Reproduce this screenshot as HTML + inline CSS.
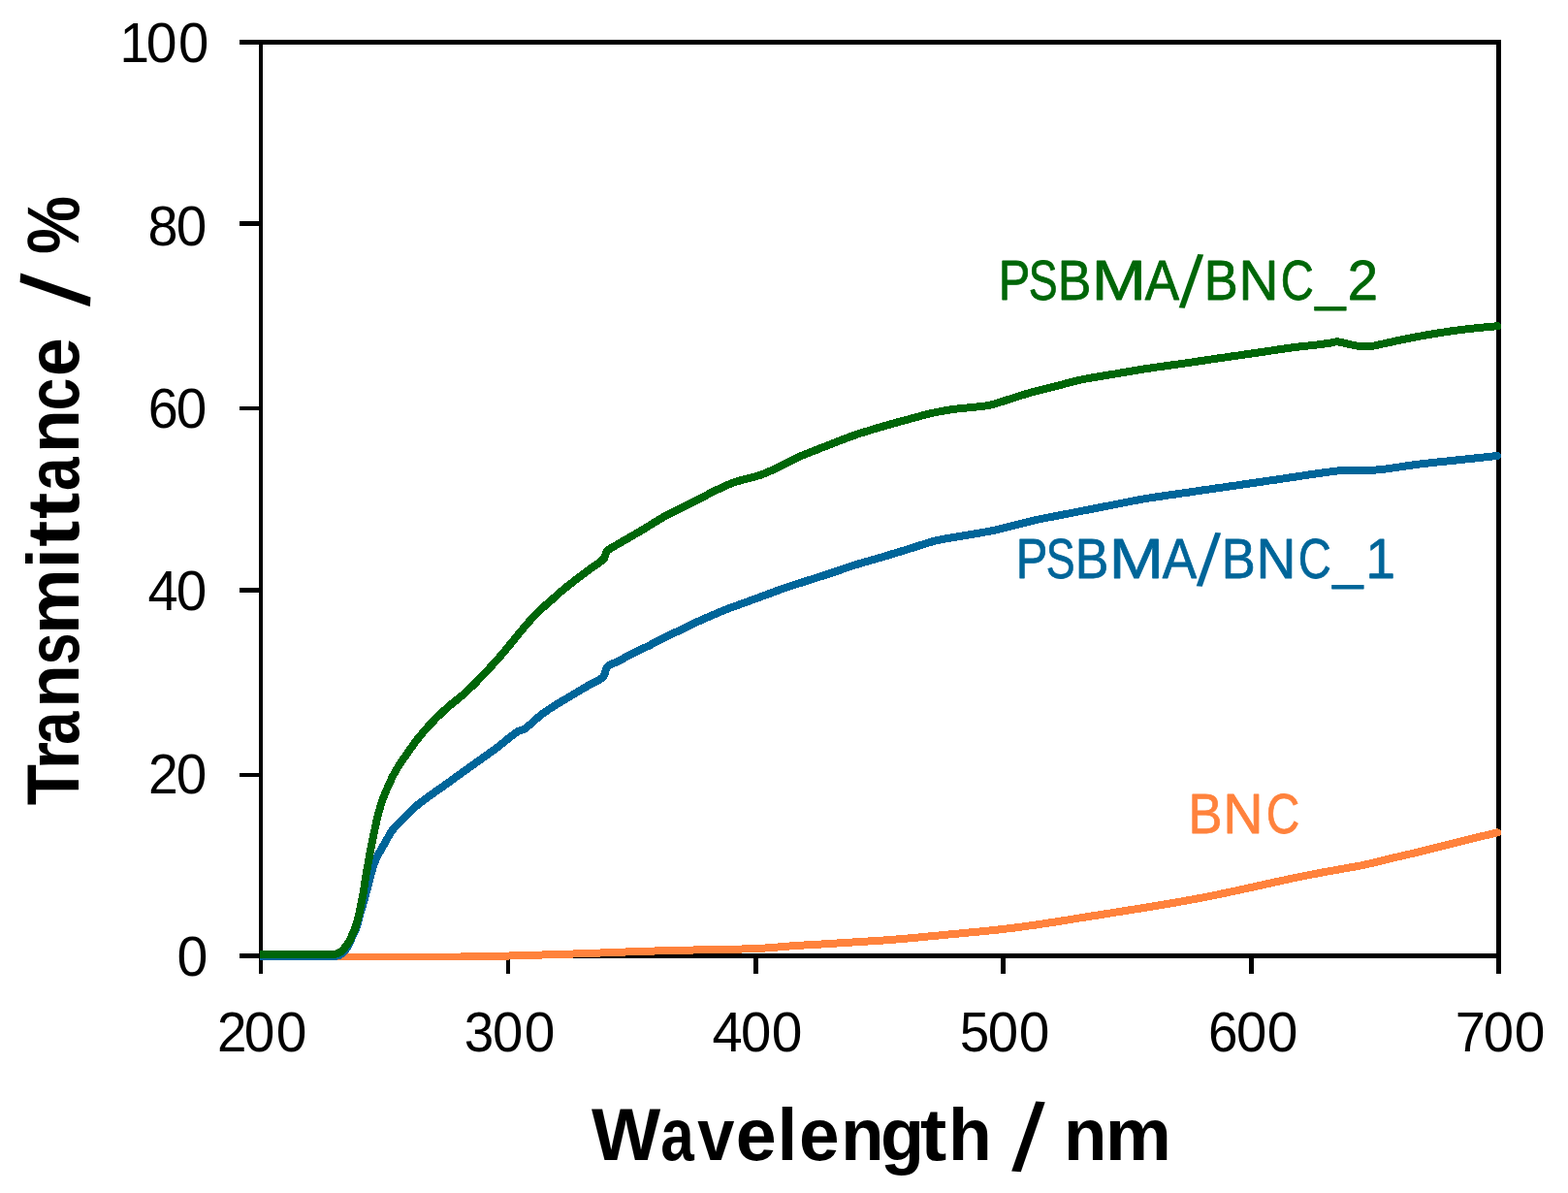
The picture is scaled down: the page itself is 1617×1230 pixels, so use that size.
<!DOCTYPE html>
<html lang="en">
<head>
<meta charset="utf-8">
<title>Transmittance vs wavelength</title>
<style>
html,body{margin:0;padding:0;background:#fff;}
body{width:1617px;height:1230px;overflow:hidden;}
svg{display:block;}
text{font-family:"Liberation Sans",sans-serif;}
.b{font-weight:700;}
</style>
</head>
<body>
<svg width="1617" height="1230" viewBox="0 0 1617 1230">
<rect x="0" y="0" width="1617" height="1230" fill="#fff"/>
<g fill="#000" shape-rendering="crispEdges">
<rect x="267" y="41" width="4" height="963"/>
<rect x="1543" y="41" width="5" height="963"/>
<rect x="247" y="41" width="1301" height="5"/>
<rect x="247" y="983" width="1301" height="5"/>
<rect x="247" y="228" width="20" height="5"/>
<rect x="247" y="419" width="20" height="4"/>
<rect x="247" y="606" width="20" height="5"/>
<rect x="247" y="797" width="20" height="4"/>
<rect x="522" y="988" width="4" height="16"/>
<rect x="777" y="988" width="5" height="16"/>
<rect x="1032" y="988" width="5" height="16"/>
<rect x="1288" y="988" width="5" height="16"/>
</g>
<clipPath id="plot"><rect x="268" y="30" width="1290" height="960"/></clipPath>
<g clip-path="url(#plot)" fill="none" stroke-width="8" stroke-linejoin="round" stroke-linecap="round" shape-rendering="crispEdges">
<path stroke="#FF823C" d="M269.0,987.0 L271.0,987.0 L273.0,987.0 L275.0,987.0 L277.0,987.0 L279.0,987.0 L281.0,987.0 L283.0,987.0 L285.0,987.0 L287.0,987.0 L289.0,987.0 L291.0,987.0 L293.0,987.0 L295.0,987.0 L297.0,987.0 L299.0,987.0 L301.0,987.0 L303.0,987.0 L305.0,987.0 L307.0,987.0 L309.0,987.0 L311.0,987.0 L313.0,987.0 L315.0,987.0 L317.0,987.0 L319.0,987.0 L321.0,987.0 L323.0,987.0 L325.0,987.0 L327.0,987.0 L329.0,987.0 L331.0,987.0 L333.0,987.0 L335.0,987.0 L337.0,987.0 L339.0,987.0 L341.0,987.0 L343.0,987.0 L345.0,987.0 L347.0,987.0 L349.0,987.0 L351.0,987.0 L353.0,987.0 L355.0,987.0 L357.0,987.0 L359.0,987.0 L361.0,987.0 L363.0,987.0 L365.0,987.0 L367.0,987.0 L369.0,987.0 L371.0,987.0 L373.0,987.0 L375.0,987.0 L377.0,987.0 L379.0,987.0 L381.0,987.0 L383.0,987.0 L385.0,987.0 L387.0,987.0 L389.0,987.0 L391.0,987.0 L393.0,987.0 L395.0,987.0 L397.0,987.0 L399.0,987.0 L400.0,987.0 L401.0,987.0 L403.0,987.0 L405.0,987.0 L407.0,987.0 L409.0,987.0 L411.0,987.0 L413.0,987.0 L415.0,987.0 L417.0,987.0 L419.0,987.0 L421.0,987.0 L423.0,986.9 L425.0,986.9 L427.0,986.9 L429.0,986.9 L431.0,986.9 L433.0,986.9 L435.0,986.9 L437.0,986.9 L439.0,986.9 L441.0,986.9 L443.0,986.8 L445.0,986.8 L447.0,986.8 L449.0,986.8 L450.0,986.8 L451.0,986.8 L453.0,986.8 L455.0,986.8 L457.0,986.7 L459.0,986.7 L461.0,986.7 L463.0,986.7 L465.0,986.6 L467.0,986.6 L469.0,986.6 L471.0,986.5 L473.0,986.5 L475.0,986.5 L477.0,986.4 L479.0,986.4 L481.0,986.4 L483.0,986.3 L485.0,986.3 L487.0,986.2 L489.0,986.2 L491.0,986.2 L493.0,986.1 L495.0,986.1 L497.0,986.1 L499.0,986.0 L500.0,986.0 L501.0,986.0 L503.0,985.9 L505.0,985.9 L507.0,985.9 L509.0,985.8 L511.0,985.8 L513.0,985.7 L515.0,985.7 L517.0,985.7 L519.0,985.6 L521.0,985.6 L523.0,985.5 L523.7,985.5 L525.0,985.5 L527.0,985.4 L529.0,985.4 L531.0,985.3 L533.0,985.3 L535.0,985.2 L537.0,985.2 L539.0,985.1 L541.0,985.0 L543.0,985.0 L545.0,984.9 L547.0,984.9 L549.0,984.8 L551.0,984.8 L553.0,984.7 L555.0,984.6 L557.0,984.6 L559.0,984.5 L561.0,984.4 L563.0,984.4 L565.0,984.3 L567.0,984.3 L569.0,984.2 L571.0,984.1 L573.0,984.1 L575.0,984.0 L577.0,983.9 L579.0,983.9 L581.0,983.8 L583.0,983.7 L585.0,983.7 L587.0,983.6 L589.0,983.5 L591.0,983.5 L593.0,983.4 L595.0,983.3 L597.0,983.3 L599.0,983.2 L601.0,983.1 L603.0,983.1 L605.0,983.0 L607.0,982.9 L609.0,982.8 L611.0,982.8 L613.0,982.7 L615.0,982.6 L617.0,982.5 L619.0,982.5 L621.0,982.4 L623.0,982.3 L625.0,982.2 L627.0,982.1 L629.0,982.1 L631.0,982.0 L633.0,981.9 L635.0,981.8 L637.0,981.8 L639.0,981.7 L641.0,981.6 L643.0,981.5 L645.0,981.5 L647.0,981.4 L649.0,981.3 L651.0,981.2 L653.0,981.2 L655.0,981.1 L657.0,981.0 L658.3,981.0 L659.0,981.0 L661.0,980.9 L663.0,980.9 L665.0,980.8 L667.0,980.7 L669.0,980.7 L671.0,980.6 L673.0,980.6 L675.0,980.5 L677.0,980.4 L679.0,980.4 L681.0,980.3 L683.0,980.3 L685.0,980.2 L687.0,980.2 L689.0,980.1 L691.0,980.1 L693.0,980.0 L695.0,980.0 L697.0,979.9 L699.0,979.9 L701.0,979.8 L703.0,979.8 L705.0,979.7 L707.0,979.7 L709.0,979.6 L711.0,979.6 L713.0,979.5 L715.0,979.5 L717.0,979.4 L717.7,979.4 L719.0,979.4 L721.0,979.3 L723.0,979.3 L725.0,979.2 L727.0,979.2 L729.0,979.2 L731.0,979.1 L733.0,979.1 L735.0,979.0 L737.0,979.0 L739.0,979.0 L741.0,978.9 L743.0,978.9 L745.0,978.9 L747.0,978.8 L749.0,978.8 L751.0,978.8 L753.0,978.7 L755.0,978.7 L757.0,978.6 L759.0,978.6 L761.0,978.5 L763.0,978.5 L765.0,978.5 L767.0,978.4 L769.0,978.3 L771.0,978.3 L773.0,978.2 L775.0,978.2 L777.0,978.1 L779.0,978.0 L781.0,977.9 L783.0,977.8 L785.0,977.7 L787.0,977.6 L789.0,977.5 L791.0,977.3 L793.0,977.2 L795.0,977.0 L797.0,976.9 L799.0,976.7 L801.0,976.6 L803.0,976.4 L805.0,976.2 L807.0,976.1 L809.0,975.9 L811.0,975.8 L813.0,975.6 L815.0,975.4 L817.0,975.3 L819.0,975.2 L820.0,975.1 L821.0,975.0 L823.0,974.9 L825.0,974.8 L827.0,974.7 L829.0,974.5 L831.0,974.4 L833.0,974.3 L835.0,974.2 L837.0,974.0 L839.0,973.9 L841.0,973.8 L843.0,973.7 L845.0,973.6 L847.0,973.5 L849.0,973.3 L851.0,973.2 L853.0,973.1 L855.0,973.0 L857.0,972.8 L859.0,972.7 L859.4,972.7 L861.0,972.6 L863.0,972.5 L865.0,972.4 L867.0,972.2 L869.0,972.1 L871.0,972.0 L873.0,971.9 L875.0,971.7 L877.0,971.6 L879.0,971.5 L881.0,971.4 L883.0,971.3 L885.0,971.1 L887.0,971.0 L889.0,970.9 L891.0,970.8 L893.0,970.6 L895.0,970.5 L897.0,970.4 L899.0,970.3 L901.0,970.1 L903.0,970.0 L905.0,969.9 L907.0,969.7 L909.0,969.6 L911.0,969.5 L913.0,969.3 L915.0,969.2 L917.0,969.0 L918.7,968.9 L919.0,968.9 L921.0,968.7 L923.0,968.6 L925.0,968.4 L927.0,968.2 L929.0,968.1 L931.0,967.9 L933.0,967.7 L935.0,967.6 L937.0,967.4 L939.0,967.2 L941.0,967.0 L943.0,966.8 L945.0,966.7 L947.0,966.5 L949.0,966.3 L951.0,966.1 L953.0,965.9 L955.0,965.7 L957.0,965.5 L959.0,965.3 L961.0,965.1 L963.0,965.0 L965.0,964.8 L967.0,964.6 L969.0,964.4 L971.0,964.2 L973.0,964.0 L975.0,963.8 L977.0,963.6 L978.1,963.5 L979.0,963.4 L981.0,963.2 L983.0,963.0 L985.0,962.9 L987.0,962.7 L989.0,962.5 L991.0,962.3 L993.0,962.1 L995.0,961.9 L997.0,961.7 L999.0,961.5 L1001.0,961.4 L1003.0,961.2 L1005.0,961.0 L1007.0,960.8 L1009.0,960.6 L1011.0,960.4 L1013.0,960.2 L1015.0,960.0 L1017.0,959.8 L1019.0,959.6 L1021.0,959.4 L1023.0,959.2 L1025.0,959.0 L1027.0,958.8 L1029.0,958.6 L1031.0,958.3 L1033.0,958.1 L1035.0,957.9 L1037.0,957.7 L1037.5,957.6 L1039.0,957.4 L1041.0,957.2 L1043.0,956.9 L1045.0,956.7 L1047.0,956.4 L1049.0,956.2 L1051.0,955.9 L1053.0,955.6 L1055.0,955.4 L1057.0,955.1 L1059.0,954.8 L1061.0,954.5 L1063.0,954.2 L1065.0,953.9 L1067.0,953.7 L1069.0,953.4 L1071.0,953.1 L1073.0,952.8 L1075.0,952.5 L1077.0,952.2 L1079.0,951.9 L1081.0,951.6 L1083.0,951.3 L1085.0,951.0 L1087.0,950.7 L1089.0,950.4 L1091.0,950.1 L1093.0,949.7 L1095.0,949.4 L1097.0,949.1 L1099.0,948.8 L1101.0,948.5 L1103.0,948.1 L1105.0,947.8 L1107.0,947.5 L1109.0,947.2 L1111.0,946.8 L1113.0,946.5 L1115.0,946.2 L1117.0,945.9 L1119.0,945.6 L1120.0,945.4 L1121.0,945.2 L1123.0,944.9 L1125.0,944.6 L1127.0,944.3 L1129.0,944.0 L1131.0,943.7 L1133.0,943.4 L1135.0,943.0 L1137.0,942.7 L1139.0,942.4 L1141.0,942.1 L1143.0,941.8 L1145.0,941.5 L1147.0,941.2 L1149.0,940.8 L1151.0,940.5 L1153.0,940.2 L1155.0,939.9 L1157.0,939.6 L1159.0,939.3 L1160.0,939.1 L1161.0,938.9 L1163.0,938.6 L1165.0,938.3 L1167.0,938.0 L1169.0,937.7 L1171.0,937.3 L1173.0,937.0 L1175.0,936.7 L1177.0,936.4 L1179.0,936.1 L1181.0,935.7 L1183.0,935.4 L1185.0,935.1 L1187.0,934.8 L1189.0,934.4 L1191.0,934.1 L1193.0,933.8 L1195.0,933.4 L1197.0,933.1 L1199.0,932.8 L1200.0,932.6 L1201.0,932.4 L1203.0,932.1 L1205.0,931.8 L1207.0,931.4 L1209.0,931.1 L1211.0,930.7 L1213.0,930.4 L1215.0,930.0 L1217.0,929.7 L1219.0,929.3 L1221.0,929.0 L1223.0,928.6 L1225.0,928.3 L1227.0,927.9 L1229.0,927.5 L1231.0,927.2 L1233.0,926.8 L1235.0,926.4 L1237.0,926.1 L1239.0,925.7 L1240.0,925.5 L1241.0,925.3 L1243.0,924.9 L1245.0,924.5 L1247.0,924.1 L1249.0,923.7 L1251.0,923.3 L1253.0,922.9 L1255.0,922.5 L1257.0,922.1 L1259.0,921.7 L1261.0,921.2 L1263.0,920.8 L1265.0,920.4 L1267.0,920.0 L1269.0,919.5 L1271.0,919.1 L1273.0,918.7 L1275.0,918.3 L1277.0,917.8 L1278.1,917.6 L1279.0,917.4 L1281.0,917.0 L1283.0,916.5 L1285.0,916.1 L1287.0,915.7 L1289.0,915.2 L1291.0,914.8 L1293.0,914.4 L1295.0,913.9 L1297.0,913.5 L1299.0,913.0 L1301.0,912.6 L1303.0,912.1 L1305.0,911.7 L1307.0,911.2 L1309.0,910.8 L1311.0,910.4 L1313.0,909.9 L1315.0,909.5 L1317.0,909.0 L1319.0,908.6 L1321.0,908.2 L1323.0,907.7 L1325.0,907.3 L1327.0,906.8 L1329.0,906.4 L1331.0,906.0 L1333.0,905.5 L1335.0,905.1 L1337.0,904.7 L1337.5,904.6 L1339.0,904.3 L1341.0,903.9 L1343.0,903.5 L1345.0,903.1 L1347.0,902.7 L1349.0,902.3 L1351.0,901.9 L1353.0,901.5 L1355.0,901.1 L1357.0,900.8 L1359.0,900.4 L1360.0,900.2 L1361.0,900.0 L1363.0,899.6 L1365.0,899.3 L1367.0,898.9 L1369.0,898.5 L1371.0,898.2 L1373.0,897.8 L1375.0,897.5 L1377.0,897.1 L1379.0,896.7 L1381.0,896.4 L1383.0,896.0 L1385.0,895.7 L1387.0,895.3 L1389.0,895.0 L1390.0,894.8 L1391.0,894.6 L1393.0,894.3 L1395.0,894.0 L1397.0,893.6 L1399.0,893.3 L1400.0,893.1 L1401.0,892.9 L1403.0,892.5 L1405.0,892.1 L1407.0,891.6 L1409.0,891.2 L1409.8,891.0 L1411.0,890.7 L1413.0,890.3 L1415.0,889.8 L1417.0,889.3 L1419.0,888.8 L1421.0,888.3 L1423.0,887.8 L1425.0,887.3 L1427.0,886.8 L1429.0,886.3 L1429.6,886.2 L1431.0,885.9 L1433.0,885.4 L1435.0,884.9 L1437.0,884.5 L1439.0,884.0 L1441.0,883.5 L1443.0,883.1 L1445.0,882.6 L1447.0,882.1 L1449.0,881.7 L1451.0,881.2 L1453.0,880.7 L1455.0,880.3 L1457.0,879.8 L1459.0,879.3 L1461.0,878.9 L1463.0,878.4 L1465.0,877.9 L1467.0,877.4 L1469.0,876.9 L1469.2,876.9 L1471.0,876.5 L1473.0,876.0 L1475.0,875.5 L1477.0,875.0 L1479.0,874.5 L1481.0,874.0 L1483.0,873.5 L1485.0,873.0 L1487.0,872.5 L1489.0,872.0 L1491.0,871.5 L1493.0,870.9 L1495.0,870.4 L1497.0,869.9 L1499.0,869.4 L1501.0,868.9 L1503.0,868.4 L1505.0,867.9 L1507.0,867.4 L1508.7,867.0 L1509.0,866.9 L1511.0,866.4 L1513.0,865.9 L1515.0,865.4 L1517.0,865.0 L1519.0,864.5 L1521.0,864.0 L1523.0,863.5 L1525.0,863.0 L1527.0,862.5 L1529.0,862.0 L1531.0,861.5 L1533.0,861.1 L1535.0,860.6 L1537.0,860.1 L1539.0,859.6 L1541.0,859.1 L1543.0,858.6 L1544.0,858.4"/>
<path stroke="#006599" d="M269.0,986.0 L271.0,986.0 L273.0,986.0 L275.0,986.0 L277.0,986.0 L279.0,986.0 L281.0,986.0 L283.0,986.0 L285.0,986.0 L287.0,986.0 L289.0,986.0 L291.0,986.0 L293.0,986.0 L295.0,986.0 L297.0,986.0 L299.0,986.0 L300.0,986.0 L301.0,986.0 L303.0,986.0 L305.0,986.0 L307.0,986.0 L309.0,986.0 L311.0,986.0 L313.0,986.0 L315.0,986.0 L317.0,986.0 L319.0,986.0 L321.0,986.0 L323.0,986.0 L325.0,986.0 L327.0,986.0 L329.0,986.0 L330.0,986.0 L331.0,986.0 L333.0,986.0 L335.0,986.0 L337.0,986.0 L339.0,986.0 L340.0,986.0 L341.0,986.0 L343.0,985.9 L345.0,985.8 L347.0,985.6 L348.0,985.5 L349.0,985.3 L351.0,984.3 L353.0,983.0 L355.0,981.1 L357.0,978.5 L359.0,975.1 L361.0,971.0 L361.7,969.5 L363.0,966.5 L364.5,963.0 L365.0,962.0 L367.0,958.1 L367.4,957.1 L369.0,951.5 L370.7,944.7 L371.0,943.6 L373.0,936.9 L374.3,932.4 L375.0,929.9 L377.0,922.6 L377.7,920.0 L379.0,915.3 L381.0,907.9 L381.3,906.8 L383.0,900.0 L384.5,894.5 L385.0,893.0 L387.0,887.7 L389.0,883.1 L389.5,882.1 L391.0,879.3 L393.0,875.9 L395.0,872.4 L396.5,869.7 L397.0,868.8 L399.0,865.4 L400.0,863.6 L401.0,861.8 L402.8,858.6 L403.0,858.3 L405.0,855.5 L407.0,853.1 L408.0,852.0 L409.0,850.9 L411.0,849.0 L413.0,847.1 L414.5,845.6 L415.0,845.1 L417.0,843.0 L419.0,840.8 L421.0,838.7 L421.4,838.3 L423.0,836.7 L425.0,834.9 L427.0,833.0 L429.0,831.3 L431.0,829.6 L433.0,828.0 L435.0,826.5 L437.0,824.9 L439.0,823.4 L439.3,823.2 L441.0,821.9 L443.0,820.5 L445.0,819.1 L447.0,817.7 L449.0,816.3 L450.0,815.6 L451.0,814.9 L453.0,813.5 L455.0,812.1 L457.0,810.7 L459.0,809.2 L461.0,807.8 L463.0,806.4 L465.0,805.0 L467.0,803.5 L469.0,802.1 L471.0,800.6 L473.0,799.2 L475.0,797.7 L476.0,797.0 L477.0,796.3 L479.0,794.9 L481.0,793.5 L483.0,792.0 L485.0,790.6 L487.0,789.2 L488.7,788.0 L489.0,787.8 L491.0,786.3 L493.0,784.9 L495.0,783.4 L497.0,782.0 L499.0,780.5 L500.0,779.8 L501.0,779.1 L503.0,777.7 L505.0,776.2 L507.0,774.8 L509.0,773.4 L511.0,771.9 L512.5,770.8 L513.0,770.4 L515.0,768.9 L517.0,767.3 L519.0,765.7 L521.0,764.1 L523.0,762.4 L525.0,760.8 L527.0,759.3 L528.3,758.3 L529.0,757.8 L531.0,756.2 L533.0,754.7 L534.3,754.0 L535.0,753.7 L537.0,753.1 L539.0,752.4 L540.0,752.0 L541.0,751.4 L543.0,749.9 L545.0,748.3 L547.0,746.7 L549.0,744.9 L551.0,743.1 L553.0,741.3 L555.0,739.6 L557.0,737.9 L558.0,737.1 L559.0,736.3 L561.0,734.9 L563.0,733.4 L565.0,732.0 L567.0,730.7 L569.0,729.4 L570.0,728.7 L571.0,728.1 L573.0,726.8 L575.0,725.6 L577.0,724.4 L579.0,723.2 L581.0,722.1 L583.0,720.9 L585.0,719.7 L587.0,718.5 L589.0,717.3 L591.0,716.1 L593.0,714.9 L595.0,713.7 L597.0,712.5 L599.0,711.3 L599.7,710.9 L601.0,710.1 L603.0,709.0 L605.0,707.8 L607.0,706.7 L609.0,705.5 L611.0,704.4 L612.0,703.8 L613.0,703.3 L615.0,702.3 L617.0,701.4 L619.0,700.3 L621.0,698.9 L621.5,698.4 L623.0,696.1 L623.5,695.0 L625.0,690.0 L626.8,687.2 L627.0,687.0 L629.0,685.6 L631.0,684.5 L633.0,683.7 L635.0,682.8 L636.8,682.0 L637.0,681.9 L639.0,680.9 L641.0,679.8 L643.0,678.8 L645.0,677.7 L647.0,676.7 L649.0,675.6 L651.0,674.6 L651.6,674.3 L653.0,673.6 L655.0,672.6 L657.0,671.6 L659.0,670.7 L661.0,669.7 L663.0,668.7 L665.0,667.7 L666.5,667.0 L667.0,666.8 L669.0,665.8 L671.0,664.8 L673.0,663.7 L675.0,662.7 L677.0,661.7 L679.0,660.7 L681.0,659.7 L683.0,658.7 L685.0,657.7 L687.0,656.7 L689.0,655.7 L690.0,655.2 L691.0,654.7 L693.0,653.7 L695.0,652.7 L697.0,651.7 L699.0,650.8 L701.0,649.8 L703.0,648.8 L705.0,647.8 L707.0,646.8 L709.0,645.9 L711.0,644.9 L713.0,644.0 L715.0,643.0 L717.0,642.1 L717.9,641.7 L719.0,641.2 L721.0,640.3 L723.0,639.4 L725.0,638.5 L727.0,637.6 L729.0,636.7 L731.0,635.8 L733.0,635.0 L735.0,634.1 L737.0,633.3 L739.0,632.4 L741.0,631.6 L743.0,630.8 L745.0,629.9 L747.0,629.1 L747.6,628.9 L749.0,628.3 L751.0,627.6 L753.0,626.8 L755.0,626.1 L757.0,625.3 L759.0,624.6 L761.0,623.9 L763.0,623.1 L765.0,622.4 L767.0,621.7 L769.0,621.0 L771.0,620.3 L773.0,619.6 L775.0,618.8 L777.0,618.1 L777.3,618.0 L779.0,617.4 L781.0,616.6 L783.0,615.9 L785.0,615.1 L787.0,614.4 L789.0,613.7 L791.0,612.9 L793.0,612.2 L795.0,611.4 L797.0,610.7 L799.0,610.0 L801.0,609.2 L803.0,608.5 L805.0,607.8 L807.0,607.1 L809.0,606.4 L811.0,605.7 L813.0,605.1 L815.0,604.4 L817.0,603.7 L819.0,603.1 L821.0,602.4 L823.0,601.8 L825.0,601.1 L827.0,600.5 L829.0,599.8 L830.0,599.5 L831.0,599.2 L833.0,598.5 L835.0,597.9 L837.0,597.3 L839.0,596.6 L841.0,596.0 L843.0,595.4 L845.0,594.7 L847.0,594.1 L849.0,593.5 L851.0,592.8 L853.0,592.2 L855.0,591.5 L855.7,591.3 L857.0,590.9 L859.0,590.2 L861.0,589.5 L863.0,588.8 L865.0,588.2 L867.0,587.5 L869.0,586.8 L871.0,586.1 L873.0,585.4 L875.0,584.7 L877.0,584.1 L879.0,583.4 L881.0,582.8 L883.0,582.1 L883.4,582.0 L885.0,581.5 L887.0,580.9 L889.0,580.3 L891.0,579.7 L893.0,579.1 L895.0,578.6 L897.0,578.0 L899.0,577.4 L901.0,576.9 L903.0,576.3 L905.0,575.7 L907.0,575.1 L909.0,574.6 L909.2,574.5 L911.0,574.0 L913.0,573.4 L915.0,572.8 L917.0,572.2 L919.0,571.5 L921.0,570.9 L923.0,570.3 L925.0,569.7 L927.0,569.1 L929.0,568.5 L931.0,567.9 L933.0,567.3 L935.0,566.7 L937.0,566.0 L938.8,565.5 L939.0,565.4 L941.0,564.8 L943.0,564.2 L945.0,563.5 L947.0,562.9 L949.0,562.2 L951.0,561.6 L953.0,560.9 L955.0,560.3 L957.0,559.7 L959.0,559.1 L961.0,558.5 L963.0,558.0 L965.0,557.5 L966.6,557.1 L967.0,557.0 L969.0,556.6 L971.0,556.2 L973.0,555.8 L975.0,555.4 L977.0,555.1 L979.0,554.8 L981.0,554.4 L983.0,554.1 L985.0,553.8 L987.0,553.4 L988.3,553.2 L989.0,553.1 L991.0,552.7 L993.0,552.4 L995.0,552.1 L997.0,551.7 L999.0,551.4 L1001.0,551.1 L1003.0,550.8 L1005.0,550.4 L1007.0,550.1 L1009.0,549.7 L1011.0,549.4 L1012.1,549.2 L1013.0,549.0 L1015.0,548.7 L1017.0,548.3 L1019.0,548.0 L1021.0,547.6 L1023.0,547.2 L1025.0,546.8 L1027.0,546.4 L1027.9,546.2 L1029.0,546.0 L1031.0,545.5 L1033.0,545.0 L1035.0,544.5 L1037.0,544.0 L1039.0,543.5 L1041.0,543.0 L1043.0,542.5 L1045.0,542.0 L1047.0,541.5 L1047.7,541.3 L1049.0,541.0 L1051.0,540.5 L1053.0,539.9 L1055.0,539.4 L1057.0,538.9 L1059.0,538.4 L1061.0,537.9 L1063.0,537.4 L1065.0,536.9 L1067.0,536.4 L1067.5,536.3 L1069.0,536.0 L1071.0,535.5 L1073.0,535.1 L1075.0,534.7 L1077.0,534.3 L1079.0,533.9 L1081.0,533.5 L1083.0,533.1 L1085.0,532.7 L1087.0,532.4 L1089.0,532.0 L1091.0,531.6 L1093.0,531.2 L1095.0,530.8 L1097.0,530.4 L1097.2,530.4 L1099.0,530.0 L1101.0,529.7 L1103.0,529.3 L1105.0,528.9 L1107.0,528.5 L1109.0,528.1 L1111.0,527.7 L1113.0,527.3 L1115.0,526.9 L1117.0,526.5 L1119.0,526.1 L1121.0,525.7 L1123.0,525.4 L1125.0,525.0 L1126.9,524.6 L1127.0,524.6 L1129.0,524.2 L1131.0,523.8 L1133.0,523.4 L1135.0,523.0 L1137.0,522.6 L1139.0,522.2 L1141.0,521.8 L1143.0,521.5 L1145.0,521.1 L1147.0,520.7 L1149.0,520.3 L1150.0,520.1 L1151.0,519.9 L1153.0,519.5 L1155.0,519.1 L1157.0,518.7 L1159.0,518.3 L1161.0,517.9 L1163.0,517.5 L1165.0,517.1 L1167.0,516.7 L1169.0,516.3 L1171.0,516.0 L1173.0,515.6 L1175.0,515.2 L1177.0,514.8 L1179.0,514.5 L1179.6,514.4 L1181.0,514.2 L1183.0,513.8 L1185.0,513.5 L1187.0,513.2 L1189.0,512.9 L1191.0,512.6 L1193.0,512.3 L1195.0,512.0 L1197.0,511.7 L1199.0,511.4 L1201.0,511.1 L1203.0,510.8 L1205.0,510.5 L1207.0,510.3 L1209.0,510.0 L1211.0,509.7 L1213.0,509.4 L1215.0,509.1 L1217.0,508.8 L1219.0,508.5 L1219.2,508.5 L1221.0,508.2 L1223.0,507.9 L1225.0,507.7 L1227.0,507.4 L1229.0,507.1 L1231.0,506.8 L1233.0,506.5 L1235.0,506.2 L1237.0,505.9 L1239.0,505.6 L1241.0,505.3 L1243.0,505.1 L1245.0,504.8 L1247.0,504.5 L1249.0,504.2 L1251.0,503.9 L1253.0,503.6 L1255.0,503.3 L1257.0,503.0 L1258.7,502.8 L1259.0,502.8 L1261.0,502.5 L1263.0,502.2 L1265.0,501.9 L1267.0,501.6 L1269.0,501.3 L1271.0,501.0 L1273.0,500.7 L1275.0,500.5 L1277.0,500.2 L1279.0,499.9 L1281.0,499.6 L1283.0,499.3 L1285.0,499.0 L1287.0,498.7 L1289.0,498.4 L1291.0,498.2 L1293.0,497.9 L1295.0,497.6 L1297.0,497.3 L1298.3,497.1 L1299.0,497.0 L1301.0,496.7 L1303.0,496.4 L1305.0,496.1 L1307.0,495.8 L1309.0,495.5 L1311.0,495.2 L1313.0,495.0 L1315.0,494.7 L1317.0,494.4 L1319.0,494.1 L1321.0,493.8 L1323.0,493.5 L1325.0,493.2 L1327.0,492.9 L1329.0,492.6 L1331.0,492.3 L1333.0,492.0 L1335.0,491.7 L1337.0,491.4 L1337.9,491.3 L1339.0,491.1 L1341.0,490.8 L1343.0,490.5 L1345.0,490.2 L1347.0,489.9 L1349.0,489.6 L1351.0,489.3 L1353.0,489.0 L1355.0,488.7 L1357.0,488.4 L1359.0,488.2 L1361.0,487.9 L1363.0,487.6 L1365.0,487.3 L1367.0,487.1 L1367.6,487.0 L1369.0,486.8 L1371.0,486.5 L1373.0,486.3 L1375.0,486.0 L1377.0,485.7 L1379.0,485.5 L1381.0,485.3 L1383.0,485.1 L1385.0,485.0 L1385.5,485.0 L1387.0,485.0 L1389.0,484.9 L1391.0,484.9 L1393.0,484.9 L1395.0,484.8 L1397.0,484.8 L1399.0,484.8 L1401.0,484.8 L1403.0,484.8 L1405.0,484.8 L1407.0,484.8 L1409.0,484.7 L1411.0,484.7 L1413.0,484.7 L1415.0,484.6 L1417.0,484.6 L1417.1,484.6 L1419.0,484.5 L1421.0,484.4 L1423.0,484.2 L1425.0,484.0 L1427.0,483.8 L1429.0,483.5 L1431.0,483.2 L1433.0,482.9 L1435.0,482.6 L1436.9,482.4 L1437.0,482.4 L1439.0,482.1 L1441.0,481.8 L1443.0,481.5 L1445.0,481.2 L1447.0,480.9 L1449.0,480.6 L1451.0,480.3 L1453.0,480.0 L1455.0,479.7 L1457.0,479.4 L1459.0,479.1 L1460.0,479.0 L1461.0,478.9 L1463.0,478.6 L1465.0,478.4 L1467.0,478.2 L1469.0,477.9 L1471.0,477.7 L1473.0,477.5 L1473.8,477.4 L1475.0,477.3 L1477.0,477.0 L1479.0,476.8 L1481.0,476.6 L1483.0,476.4 L1485.0,476.2 L1487.0,476.0 L1489.0,475.8 L1491.0,475.6 L1493.0,475.4 L1495.0,475.2 L1497.0,475.0 L1499.0,474.8 L1501.0,474.6 L1503.0,474.3 L1505.0,474.1 L1506.3,474.0 L1507.0,473.9 L1509.0,473.7 L1511.0,473.5 L1513.0,473.3 L1515.0,473.1 L1517.0,472.9 L1519.0,472.7 L1521.0,472.4 L1523.0,472.2 L1525.0,472.0 L1527.0,471.8 L1529.0,471.6 L1531.0,471.4 L1533.0,471.2 L1535.0,471.0 L1537.0,470.7 L1539.0,470.5 L1541.0,470.3 L1543.0,470.1 L1544.0,470.0"/>
<path stroke="#006608" d="M269.0,984.0 L271.0,984.0 L273.0,984.0 L275.0,984.0 L277.0,984.0 L279.0,984.0 L281.0,984.0 L283.0,984.0 L285.0,984.0 L287.0,984.0 L289.0,984.0 L291.0,984.0 L293.0,984.0 L295.0,984.0 L297.0,984.0 L299.0,984.0 L300.0,984.0 L301.0,984.0 L303.0,984.0 L305.0,984.0 L307.0,984.0 L309.0,984.0 L311.0,984.0 L313.0,984.0 L315.0,984.0 L317.0,984.0 L319.0,984.0 L321.0,984.0 L323.0,984.0 L325.0,984.0 L327.0,984.0 L329.0,984.0 L330.0,984.0 L331.0,984.0 L333.0,984.0 L335.0,984.0 L337.0,984.0 L339.0,984.0 L341.0,984.0 L343.0,984.0 L345.0,983.8 L347.0,983.4 L348.5,983.0 L349.0,982.8 L351.0,981.6 L353.0,980.0 L355.0,977.7 L357.0,975.0 L359.0,972.3 L360.8,969.5 L361.0,969.1 L363.0,964.2 L363.5,963.0 L365.0,959.9 L366.2,957.1 L367.0,954.7 L369.0,947.5 L369.7,944.7 L371.0,939.1 L372.4,932.4 L373.0,929.5 L374.8,920.0 L375.0,918.8 L376.7,906.8 L377.0,905.0 L378.9,894.5 L379.0,893.9 L381.0,882.7 L381.1,882.1 L383.0,871.8 L383.4,869.7 L385.0,862.0 L386.0,857.4 L387.0,852.7 L388.7,845.0 L389.0,843.8 L391.0,836.0 L393.0,829.1 L394.0,826.0 L395.0,823.2 L397.0,818.2 L398.8,814.0 L399.0,813.5 L401.0,809.0 L403.0,804.6 L405.0,800.4 L407.0,796.6 L409.0,793.1 L411.0,789.9 L413.0,786.9 L415.0,783.9 L417.0,781.0 L417.5,780.3 L419.0,778.1 L421.0,775.2 L423.0,772.4 L425.0,769.6 L427.0,766.8 L429.0,764.1 L431.0,761.5 L433.0,759.0 L435.0,756.6 L435.3,756.2 L437.0,754.2 L439.0,751.9 L441.0,749.7 L443.0,747.5 L445.0,745.4 L447.0,743.4 L449.0,741.3 L451.0,739.3 L453.0,737.4 L455.0,735.5 L457.0,733.6 L459.0,731.7 L459.1,731.6 L461.0,729.9 L463.0,728.1 L465.0,726.4 L467.0,724.8 L469.0,723.2 L471.0,721.6 L473.0,720.0 L475.0,718.3 L477.0,716.7 L479.0,714.9 L480.8,713.3 L481.0,713.1 L483.0,711.3 L485.0,709.3 L487.0,707.4 L489.0,705.4 L491.0,703.4 L493.0,701.3 L495.0,699.3 L497.0,697.2 L498.6,695.5 L499.0,695.1 L501.0,693.0 L503.0,690.8 L505.0,688.7 L507.0,686.5 L509.0,684.3 L511.0,682.1 L513.0,679.9 L515.0,677.6 L517.0,675.3 L518.4,673.7 L519.0,673.0 L521.0,670.6 L523.0,668.2 L525.0,665.8 L527.0,663.3 L529.0,660.8 L531.0,658.3 L533.0,655.9 L535.0,653.4 L536.2,652.0 L537.0,651.0 L539.0,648.6 L541.0,646.2 L543.0,643.9 L545.0,641.6 L545.7,640.8 L547.0,639.4 L549.0,637.3 L551.0,635.2 L553.0,633.1 L555.0,631.2 L557.0,629.2 L559.0,627.3 L561.0,625.4 L563.0,623.6 L565.0,621.9 L567.0,620.1 L569.0,618.4 L571.0,616.6 L571.5,616.2 L573.0,614.9 L575.0,613.0 L577.0,611.2 L579.0,609.5 L581.0,607.8 L583.0,606.2 L585.0,604.6 L587.0,603.0 L589.0,601.4 L591.0,599.9 L593.0,598.3 L595.0,596.8 L597.0,595.2 L598.5,594.1 L599.0,593.7 L601.0,592.2 L603.0,590.7 L605.0,589.2 L607.0,587.7 L609.0,586.3 L611.0,584.8 L613.0,583.4 L615.0,582.1 L617.0,580.7 L619.0,579.2 L621.0,577.6 L623.0,575.7 L623.5,575.0 L625.0,569.5 L627.0,567.2 L628.0,566.5 L629.0,565.8 L631.0,564.6 L632.8,563.6 L633.0,563.5 L635.0,562.3 L637.0,561.1 L639.0,560.0 L641.0,558.8 L643.0,557.7 L645.0,556.5 L647.0,555.4 L649.0,554.2 L651.0,553.1 L653.0,551.9 L655.0,550.7 L657.0,549.6 L658.5,548.7 L659.0,548.4 L661.0,547.2 L663.0,546.0 L665.0,544.8 L667.0,543.6 L669.0,542.3 L671.0,541.1 L673.0,539.9 L675.0,538.6 L677.0,537.4 L679.0,536.2 L681.0,535.0 L683.0,533.8 L685.0,532.7 L687.0,531.6 L688.2,530.9 L689.0,530.5 L691.0,529.4 L693.0,528.3 L695.0,527.3 L697.0,526.3 L699.0,525.3 L701.0,524.3 L703.0,523.3 L705.0,522.3 L707.0,521.4 L709.0,520.4 L711.0,519.4 L713.0,518.4 L715.0,517.4 L717.0,516.5 L717.9,516.0 L719.0,515.4 L721.0,514.4 L723.0,513.4 L725.0,512.3 L727.0,511.3 L729.0,510.3 L731.0,509.2 L733.0,508.2 L735.0,507.2 L737.0,506.2 L739.0,505.2 L741.0,504.3 L741.6,504.0 L743.0,503.4 L745.0,502.4 L747.0,501.5 L749.0,500.6 L751.0,499.7 L753.0,498.9 L755.0,498.1 L757.0,497.4 L757.5,497.2 L759.0,496.7 L761.0,496.1 L763.0,495.5 L765.0,495.0 L767.0,494.5 L769.0,493.9 L771.0,493.4 L771.3,493.3 L773.0,492.8 L775.0,492.3 L777.0,491.8 L779.0,491.3 L781.0,490.7 L783.0,490.1 L785.0,489.5 L785.2,489.4 L787.0,488.8 L789.0,488.0 L791.0,487.1 L793.0,486.2 L795.0,485.3 L797.0,484.4 L799.0,483.4 L801.0,482.4 L803.0,481.5 L805.0,480.5 L807.0,479.5 L809.0,478.5 L811.0,477.5 L813.0,476.5 L815.0,475.4 L817.0,474.4 L819.0,473.4 L821.0,472.4 L823.0,471.4 L824.8,470.6 L825.0,470.5 L827.0,469.7 L829.0,468.8 L831.0,468.1 L833.0,467.3 L835.0,466.5 L837.0,465.8 L839.0,465.0 L840.0,464.6 L841.0,464.2 L843.0,463.4 L845.0,462.6 L847.0,461.8 L849.0,461.0 L851.0,460.3 L853.0,459.5 L853.7,459.2 L855.0,458.7 L857.0,457.9 L859.0,457.1 L861.0,456.3 L863.0,455.5 L865.0,454.7 L867.0,454.0 L869.0,453.2 L871.0,452.4 L873.0,451.6 L875.0,450.9 L877.0,450.2 L879.0,449.5 L879.5,449.3 L881.0,448.8 L883.0,448.1 L885.0,447.4 L887.0,446.8 L889.0,446.1 L891.0,445.5 L893.0,444.9 L895.0,444.3 L897.0,443.6 L899.0,443.0 L901.0,442.4 L903.0,441.8 L905.0,441.2 L907.0,440.6 L909.0,440.1 L909.2,440.0 L911.0,439.5 L913.0,438.9 L915.0,438.3 L917.0,437.8 L919.0,437.2 L921.0,436.6 L923.0,436.1 L925.0,435.5 L927.0,435.0 L929.0,434.4 L931.0,433.9 L933.0,433.3 L935.0,432.8 L937.0,432.3 L938.8,431.8 L939.0,431.7 L941.0,431.2 L943.0,430.7 L945.0,430.1 L947.0,429.6 L949.0,429.0 L951.0,428.5 L953.0,428.0 L955.0,427.4 L957.0,426.9 L959.0,426.4 L961.0,426.0 L963.0,425.5 L964.6,425.2 L965.0,425.1 L967.0,424.7 L969.0,424.3 L971.0,423.9 L973.0,423.6 L975.0,423.2 L977.0,422.9 L979.0,422.6 L981.0,422.3 L983.0,422.0 L984.4,421.8 L985.0,421.7 L987.0,421.5 L989.0,421.3 L991.0,421.1 L993.0,420.9 L995.0,420.7 L997.0,420.5 L999.0,420.3 L1001.0,420.1 L1003.0,419.9 L1004.2,419.8 L1005.0,419.7 L1007.0,419.5 L1009.0,419.3 L1011.0,419.1 L1013.0,418.9 L1015.0,418.6 L1017.0,418.4 L1018.0,418.2 L1019.0,418.0 L1021.0,417.6 L1023.0,417.1 L1025.0,416.6 L1027.0,416.0 L1029.0,415.4 L1031.0,414.7 L1033.0,414.1 L1035.0,413.5 L1037.0,412.8 L1037.8,412.6 L1039.0,412.2 L1041.0,411.6 L1043.0,411.0 L1045.0,410.4 L1047.0,409.7 L1049.0,409.1 L1051.0,408.4 L1053.0,407.8 L1055.0,407.1 L1057.0,406.5 L1059.0,405.9 L1061.0,405.3 L1063.0,404.7 L1063.5,404.6 L1065.0,404.2 L1067.0,403.7 L1069.0,403.1 L1071.0,402.6 L1073.0,402.1 L1075.0,401.6 L1077.0,401.1 L1079.0,400.6 L1081.0,400.2 L1083.0,399.7 L1085.0,399.2 L1087.0,398.7 L1087.3,398.6 L1089.0,398.2 L1091.0,397.6 L1093.0,397.1 L1095.0,396.6 L1097.0,396.0 L1099.0,395.5 L1101.0,395.0 L1103.0,394.4 L1105.0,393.9 L1107.0,393.4 L1109.0,392.9 L1111.0,392.4 L1113.0,392.0 L1115.0,391.5 L1117.0,391.1 L1119.0,390.7 L1121.0,390.3 L1123.0,389.9 L1125.0,389.6 L1127.0,389.2 L1129.0,388.9 L1131.0,388.6 L1133.0,388.2 L1135.0,387.9 L1137.0,387.6 L1139.0,387.3 L1141.0,387.0 L1143.0,386.6 L1145.0,386.3 L1147.0,386.0 L1149.0,385.7 L1150.0,385.5 L1151.0,385.3 L1153.0,385.0 L1155.0,384.6 L1157.0,384.3 L1159.0,384.0 L1161.0,383.6 L1163.0,383.3 L1165.0,382.9 L1167.0,382.6 L1169.0,382.2 L1171.0,381.9 L1173.0,381.6 L1175.0,381.2 L1177.0,380.9 L1179.0,380.6 L1179.6,380.5 L1181.0,380.3 L1183.0,380.0 L1185.0,379.7 L1187.0,379.4 L1189.0,379.1 L1191.0,378.8 L1193.0,378.5 L1195.0,378.3 L1197.0,378.0 L1199.0,377.7 L1201.0,377.4 L1203.0,377.2 L1205.0,376.9 L1207.0,376.6 L1209.0,376.3 L1211.0,376.1 L1213.0,375.8 L1215.0,375.5 L1217.0,375.2 L1219.0,374.9 L1219.2,374.9 L1221.0,374.6 L1223.0,374.4 L1225.0,374.1 L1227.0,373.8 L1229.0,373.5 L1231.0,373.2 L1233.0,372.9 L1235.0,372.6 L1237.0,372.3 L1239.0,372.0 L1241.0,371.7 L1243.0,371.4 L1245.0,371.1 L1247.0,370.8 L1249.0,370.5 L1251.0,370.2 L1253.0,369.9 L1255.0,369.6 L1257.0,369.3 L1258.7,369.1 L1259.0,369.1 L1261.0,368.8 L1263.0,368.5 L1265.0,368.2 L1267.0,367.9 L1269.0,367.6 L1271.0,367.3 L1273.0,367.0 L1275.0,366.7 L1277.0,366.5 L1279.0,366.2 L1281.0,365.9 L1283.0,365.6 L1285.0,365.3 L1287.0,365.0 L1289.0,364.7 L1291.0,364.4 L1293.0,364.2 L1295.0,363.9 L1297.0,363.6 L1298.3,363.4 L1299.0,363.3 L1301.0,363.0 L1303.0,362.7 L1305.0,362.4 L1307.0,362.1 L1309.0,361.8 L1311.0,361.5 L1313.0,361.2 L1315.0,360.9 L1317.0,360.6 L1319.0,360.3 L1321.0,360.0 L1323.0,359.7 L1325.0,359.4 L1327.0,359.2 L1329.0,358.9 L1331.0,358.6 L1333.0,358.3 L1335.0,358.1 L1337.0,357.8 L1337.9,357.7 L1339.0,357.6 L1341.0,357.3 L1343.0,357.1 L1345.0,356.9 L1347.0,356.7 L1349.0,356.5 L1351.0,356.2 L1353.0,356.0 L1355.0,355.8 L1357.0,355.6 L1359.0,355.4 L1361.0,355.1 L1363.0,354.9 L1363.6,354.8 L1365.0,354.6 L1367.0,354.3 L1369.0,354.0 L1371.0,353.7 L1373.0,353.4 L1374.0,353.2 L1375.0,353.0 L1377.0,352.5 L1378.5,352.3 L1379.0,352.3 L1381.0,352.6 L1383.0,353.0 L1384.0,353.2 L1385.0,353.4 L1387.0,353.9 L1389.0,354.3 L1389.4,354.4 L1391.0,354.8 L1393.0,355.3 L1395.0,355.7 L1397.0,356.2 L1399.0,356.5 L1401.0,356.7 L1401.2,356.7 L1403.0,356.8 L1405.0,356.8 L1407.0,356.8 L1409.0,356.9 L1411.0,356.9 L1413.0,356.9 L1413.1,356.9 L1415.0,356.8 L1417.0,356.5 L1419.0,356.1 L1421.0,355.6 L1423.0,355.1 L1425.0,354.7 L1427.0,354.3 L1429.0,353.9 L1431.0,353.4 L1433.0,353.0 L1435.0,352.6 L1437.0,352.1 L1439.0,351.7 L1440.8,351.3 L1441.0,351.3 L1443.0,350.8 L1445.0,350.4 L1447.0,350.0 L1449.0,349.6 L1451.0,349.2 L1453.0,348.8 L1455.0,348.4 L1457.0,348.0 L1459.0,347.6 L1460.0,347.4 L1461.0,347.2 L1463.0,346.8 L1465.0,346.5 L1467.0,346.1 L1469.0,345.8 L1471.0,345.4 L1473.0,345.0 L1475.0,344.7 L1477.0,344.4 L1479.0,344.0 L1481.0,343.7 L1483.0,343.4 L1485.0,343.1 L1487.0,342.8 L1489.0,342.5 L1490.1,342.3 L1491.0,342.2 L1493.0,341.9 L1495.0,341.6 L1497.0,341.3 L1499.0,341.0 L1501.0,340.8 L1503.0,340.5 L1505.0,340.3 L1507.0,340.0 L1509.0,339.7 L1511.0,339.5 L1513.0,339.3 L1515.0,339.0 L1517.0,338.8 L1519.0,338.6 L1521.0,338.4 L1522.6,338.2 L1523.0,338.2 L1525.0,338.0 L1527.0,337.8 L1529.0,337.6 L1531.0,337.4 L1533.0,337.2 L1535.0,337.0 L1537.0,336.9 L1539.0,336.7 L1541.0,336.5 L1543.0,336.4 L1544.0,336.3"/>
</g>
<text transform="translate(0 63.50)" font-size="56.5" fill="#000" xml:space="preserve"><tspan x="123.46" y="0" textLength="30.48" lengthAdjust="spacingAndGlyphs">1</tspan><tspan x="150.77" y="0" textLength="31.76" lengthAdjust="spacingAndGlyphs">0</tspan><tspan x="184.00" y="0" textLength="31.30" lengthAdjust="spacingAndGlyphs">0</tspan></text>
<text transform="translate(0 252.80)" font-size="56.5" fill="#000" xml:space="preserve"><tspan x="152.57" y="0" textLength="31.05" lengthAdjust="spacingAndGlyphs">8</tspan><tspan x="181.79" y="0" textLength="31.53" lengthAdjust="spacingAndGlyphs">0</tspan></text>
<text transform="translate(0 440.50)" font-size="56.5" fill="#000" xml:space="preserve"><tspan x="152.67" y="0" textLength="30.98" lengthAdjust="spacingAndGlyphs">6</tspan><tspan x="181.79" y="0" textLength="31.53" lengthAdjust="spacingAndGlyphs">0</tspan></text>
<text transform="translate(0 628.60)" font-size="56.5" fill="#000" xml:space="preserve"><tspan x="152.52" y="0" textLength="31.12" lengthAdjust="spacingAndGlyphs">4</tspan><tspan x="181.79" y="0" textLength="31.53" lengthAdjust="spacingAndGlyphs">0</tspan></text>
<text transform="translate(0 817.50)" font-size="56.5" fill="#000" xml:space="preserve"><tspan x="153.02" y="0" textLength="30.76" lengthAdjust="spacingAndGlyphs">2</tspan><tspan x="181.79" y="0" textLength="31.53" lengthAdjust="spacingAndGlyphs">0</tspan></text>
<text transform="translate(0 1005.60)" font-size="56.5" fill="#000" xml:space="preserve"><tspan x="182.46" y="0" textLength="31.88" lengthAdjust="spacingAndGlyphs">0</tspan></text>
<text transform="translate(0 1083.60)" font-size="56.5" fill="#000" xml:space="preserve"><tspan x="223.96" y="0" textLength="30.48" lengthAdjust="spacingAndGlyphs">2</tspan><tspan x="251.68" y="0" textLength="31.65" lengthAdjust="spacingAndGlyphs">0</tspan><tspan x="284.88" y="0" textLength="31.65" lengthAdjust="spacingAndGlyphs">0</tspan></text>
<text transform="translate(0 1083.60)" font-size="56.5" fill="#000" xml:space="preserve"><tspan x="478.87" y="0" textLength="30.48" lengthAdjust="spacingAndGlyphs">3</tspan><tspan x="507.90" y="0" textLength="31.30" lengthAdjust="spacingAndGlyphs">0</tspan><tspan x="540.68" y="0" textLength="31.65" lengthAdjust="spacingAndGlyphs">0</tspan></text>
<text transform="translate(0 1083.60)" font-size="56.5" fill="#000" xml:space="preserve"><tspan x="734.51" y="0" textLength="31.23" lengthAdjust="spacingAndGlyphs">4</tspan><tspan x="763.90" y="0" textLength="31.30" lengthAdjust="spacingAndGlyphs">0</tspan><tspan x="795.78" y="0" textLength="31.65" lengthAdjust="spacingAndGlyphs">0</tspan></text>
<text transform="translate(0 1083.60)" font-size="56.5" fill="#000" xml:space="preserve"><tspan x="989.71" y="0" textLength="30.48" lengthAdjust="spacingAndGlyphs">5</tspan><tspan x="1018.79" y="0" textLength="31.41" lengthAdjust="spacingAndGlyphs">0</tspan><tspan x="1050.68" y="0" textLength="31.65" lengthAdjust="spacingAndGlyphs">0</tspan></text>
<text transform="translate(0 1083.60)" font-size="56.5" fill="#000" xml:space="preserve"><tspan x="1246.02" y="0" textLength="30.49" lengthAdjust="spacingAndGlyphs">6</tspan><tspan x="1274.90" y="0" textLength="31.30" lengthAdjust="spacingAndGlyphs">0</tspan><tspan x="1306.78" y="0" textLength="31.65" lengthAdjust="spacingAndGlyphs">0</tspan></text>
<text transform="translate(0 1083.60)" font-size="56.5" fill="#000" xml:space="preserve"><tspan x="1500.82" y="0" textLength="31.20" lengthAdjust="spacingAndGlyphs">7</tspan><tspan x="1529.80" y="0" textLength="31.30" lengthAdjust="spacingAndGlyphs">0</tspan><tspan x="1561.68" y="0" textLength="31.65" lengthAdjust="spacingAndGlyphs">0</tspan></text>
<text class="b" transform="translate(0 1196.20)" font-size="76" fill="#000" xml:space="preserve"><tspan x="610.03" y="0" textLength="71.25" lengthAdjust="spacingAndGlyphs">W</tspan><tspan x="681.28" y="0" textLength="34.52" lengthAdjust="spacingAndGlyphs">a</tspan><tspan x="719.23" y="0" textLength="38.17" lengthAdjust="spacingAndGlyphs">v</tspan><tspan x="758.76" y="0" textLength="41.92" lengthAdjust="spacingAndGlyphs">e</tspan><tspan x="801.56" y="0" textLength="20.86" lengthAdjust="spacingAndGlyphs">l</tspan><tspan x="823.98" y="0" textLength="41.58" lengthAdjust="spacingAndGlyphs">e</tspan><tspan x="867.32" y="0" textLength="44.27" lengthAdjust="spacingAndGlyphs">n</tspan><tspan x="907.97" y="0" textLength="45.06" lengthAdjust="spacingAndGlyphs">g</tspan><tspan x="949.00" y="0" textLength="27.30" lengthAdjust="spacingAndGlyphs">t</tspan><tspan x="977.98" y="0" textLength="44.76" lengthAdjust="spacingAndGlyphs">h</tspan> <tspan x="1044.48" y="9.59" rotate="3.96" font-size="97.5" stroke-width="1.9" font-weight="400" stroke="#000" stroke-linejoin="miter">/</tspan> <tspan x="1097.11" y="0" textLength="44.40" lengthAdjust="spacingAndGlyphs">n</tspan><tspan x="1139.74" y="0" textLength="68.21" lengthAdjust="spacingAndGlyphs">m</tspan></text>
<text class="b" transform="translate(80.90 0) rotate(-90)" font-size="76" fill="#000" xml:space="preserve"><tspan x="-830.37" y="0" textLength="42.11" lengthAdjust="spacingAndGlyphs">T</tspan><tspan x="-793.46" y="0" textLength="28.67" lengthAdjust="spacingAndGlyphs">r</tspan><tspan x="-767.70" y="0" textLength="34.21" lengthAdjust="spacingAndGlyphs">a</tspan><tspan x="-729.69" y="0" textLength="44.40" lengthAdjust="spacingAndGlyphs">n</tspan><tspan x="-685.26" y="0" textLength="32.56" lengthAdjust="spacingAndGlyphs">s</tspan><tspan x="-654.03" y="0" textLength="67.86" lengthAdjust="spacingAndGlyphs">m</tspan><tspan x="-586.29" y="0" textLength="21.06" lengthAdjust="spacingAndGlyphs">i</tspan><tspan x="-563.79" y="0" textLength="26.98" lengthAdjust="spacingAndGlyphs">t</tspan><tspan x="-535.00" y="0" textLength="27.19" lengthAdjust="spacingAndGlyphs">t</tspan><tspan x="-506.02" y="0" textLength="34.52" lengthAdjust="spacingAndGlyphs">a</tspan><tspan x="-467.03" y="0" textLength="44.78" lengthAdjust="spacingAndGlyphs">n</tspan><tspan x="-423.35" y="0" textLength="33.41" lengthAdjust="spacingAndGlyphs">c</tspan><tspan x="-387.98" y="0" textLength="39.62" lengthAdjust="spacingAndGlyphs">e</tspan>  <tspan x="-314.64" y="9.98" rotate="3.96" font-size="97.9" stroke-width="1.9" font-weight="400" stroke="#000" stroke-linejoin="miter">/</tspan> <tspan x="-261.88" y="0" textLength="59.96" lengthAdjust="spacingAndGlyphs">%</tspan></text>
<text transform="translate(0 308.80)" font-size="58" fill="#006608" stroke="#006608" stroke-width="0.8" stroke-linejoin="round" xml:space="preserve"><tspan x="1029.79" y="0" textLength="32.58" lengthAdjust="spacingAndGlyphs">P</tspan><tspan x="1060.87" y="0" textLength="29.78" lengthAdjust="spacingAndGlyphs">S</tspan><tspan x="1090.85" y="0" textLength="34.59" lengthAdjust="spacingAndGlyphs">B</tspan><tspan x="1125.67" y="0" textLength="56.16" lengthAdjust="spacingAndGlyphs">M</tspan><tspan x="1180.70" y="0" textLength="35.31" lengthAdjust="spacingAndGlyphs">A</tspan><tspan x="1215.66" y="7.73" rotate="4.24" font-size="76.9" stroke="none">/</tspan><tspan x="1241.70" y="0" textLength="34.96" lengthAdjust="spacingAndGlyphs">B</tspan><tspan x="1277.44" y="0" textLength="40.98" lengthAdjust="spacingAndGlyphs">N</tspan><tspan x="1320.80" y="0" textLength="34.10" lengthAdjust="spacingAndGlyphs">C</tspan><tspan x="1356.54" y="0" textLength="31.03" lengthAdjust="spacingAndGlyphs">_</tspan><tspan x="1389.87" y="0" textLength="31.25" lengthAdjust="spacingAndGlyphs">2</tspan></text>
<text transform="translate(0 595.80)" font-size="58" fill="#006599" stroke="#006599" stroke-width="0.8" stroke-linejoin="round" xml:space="preserve"><tspan x="1047.79" y="0" textLength="32.58" lengthAdjust="spacingAndGlyphs">P</tspan><tspan x="1078.87" y="0" textLength="29.78" lengthAdjust="spacingAndGlyphs">S</tspan><tspan x="1108.85" y="0" textLength="34.59" lengthAdjust="spacingAndGlyphs">B</tspan><tspan x="1143.67" y="0" textLength="56.16" lengthAdjust="spacingAndGlyphs">M</tspan><tspan x="1198.70" y="0" textLength="35.31" lengthAdjust="spacingAndGlyphs">A</tspan><tspan x="1233.66" y="7.73" rotate="4.24" font-size="76.9" stroke="none">/</tspan><tspan x="1259.70" y="0" textLength="34.96" lengthAdjust="spacingAndGlyphs">B</tspan><tspan x="1295.44" y="0" textLength="40.98" lengthAdjust="spacingAndGlyphs">N</tspan><tspan x="1338.80" y="0" textLength="34.10" lengthAdjust="spacingAndGlyphs">C</tspan><tspan x="1374.54" y="0" textLength="31.03" lengthAdjust="spacingAndGlyphs">_</tspan><tspan x="1408.53" y="0" textLength="30.44" lengthAdjust="spacingAndGlyphs">1</tspan></text>
<text transform="translate(0 858.80)" font-size="58" fill="#FF823C" stroke="#FF823C" stroke-width="0.8" stroke-linejoin="round" xml:space="preserve"><tspan x="1225.60" y="0" textLength="34.96" lengthAdjust="spacingAndGlyphs">B</tspan><tspan x="1261.30" y="0" textLength="41.37" lengthAdjust="spacingAndGlyphs">N</tspan><tspan x="1305.77" y="0" textLength="34.55" lengthAdjust="spacingAndGlyphs">C</tspan></text>
</svg>
</body>
</html>
